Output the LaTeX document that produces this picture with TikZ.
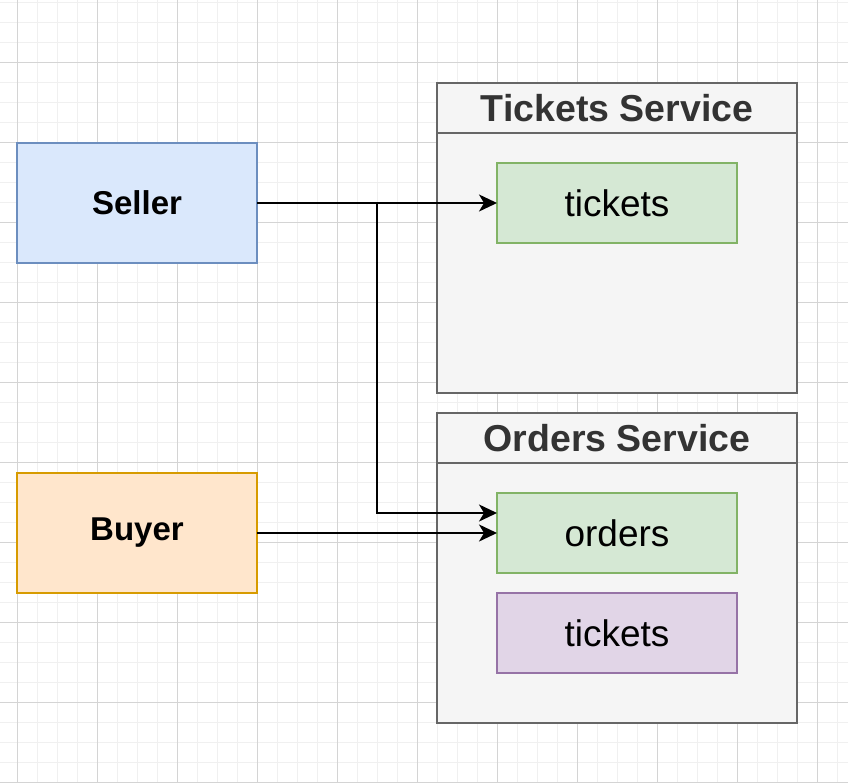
\documentclass[tikz,border=0pt]{standalone}
\usepackage{fontspec}
\setmainfont{Liberation Sans}
\usetikzlibrary{arrows.meta}
\definecolor{minorgrid}{HTML}{F0F0F0}
\definecolor{majorgrid}{HTML}{D4D4D4}
\definecolor{blueF}{HTML}{DAE8FC}\definecolor{blueS}{HTML}{6C8EBF}
\definecolor{orangeF}{HTML}{FFE6CC}\definecolor{orangeS}{HTML}{D79B00}
\definecolor{grayF}{HTML}{F5F5F5}\definecolor{grayS}{HTML}{666666}
\definecolor{grayT}{HTML}{333333}
\definecolor{greenF}{HTML}{D5E8D4}\definecolor{greenS}{HTML}{82B366}
\definecolor{purpleF}{HTML}{E1D5E7}\definecolor{purpleS}{HTML}{9673A6}
\tikzset{
  box/.style={draw, line width=2pt, rectangle, inner sep=0pt, outer sep=0pt},
  actor/.style={box, minimum width=240pt, minimum height=120pt, font=\fontsize{33}{40}\selectfont\bfseries},
  container/.style={box, fill=grayF, draw=grayS, minimum width=360pt, minimum height=310pt},
  header/.style={box, fill=grayF, draw=grayS, text=grayT, minimum width=360pt, minimum height=50pt, font=\fontsize{37.5}{44}\selectfont\bfseries},
  store/.style={box, minimum width=240pt, minimum height=80pt, font=\fontsize{37}{44}\selectfont},
  arr/.style={line width=2pt, black, -{Stealth[length=18pt,width=17pt,inset=5pt]}}
}
\begin{document}
\begin{tikzpicture}[x=1pt,y=-1pt]
\useasboundingbox (0,0) rectangle (848,782);
\fill[white] (0,0) rectangle (848,782);
% grid
\foreach \x in {17,37,...,847} \draw[minorgrid, line width=1pt] (\x,0) -- (\x,782);
\foreach \y in {2,22,...,782} \draw[minorgrid, line width=1pt] (0,\y) -- (848,\y);
\foreach \x in {17,97,...,847} \draw[majorgrid, line width=1pt] (\x,0) -- (\x,782);
\foreach \y in {62,142,...,782} \draw[majorgrid, line width=1pt] (0,\y) -- (848,\y);
% actors
\node[actor, fill=blueF, draw=blueS] (seller) at (137,203) {Seller};
\node[actor, fill=orangeF, draw=orangeS] (buyer) at (137,533) {Buyer};
% tickets service
\node[container] (tsvc) at (617,238) {};
\node[header] (tsvch) at (617,108) {Tickets Service};
\node[store, fill=greenF, draw=greenS] (tk) at (617,203) {tickets};
% orders service
\node[container] (osvc) at (617,568) {};
\node[header] (osvch) at (617,438) {Orders Service};
\node[store, fill=greenF, draw=greenS] (ord) at (617,533) {orders};
\node[store, fill=purpleF, draw=purpleS] (otk) at (617,633) {tickets};
% connectors
\coordinate (j) at (377,203);
\draw[arr] (seller.east) -- (tk.west);
\draw[arr] (seller.east) -- (j) |- ([yshift=20pt]ord.west);
\draw[arr] (buyer.east) -- (ord.west);
\end{tikzpicture}
\end{document}
